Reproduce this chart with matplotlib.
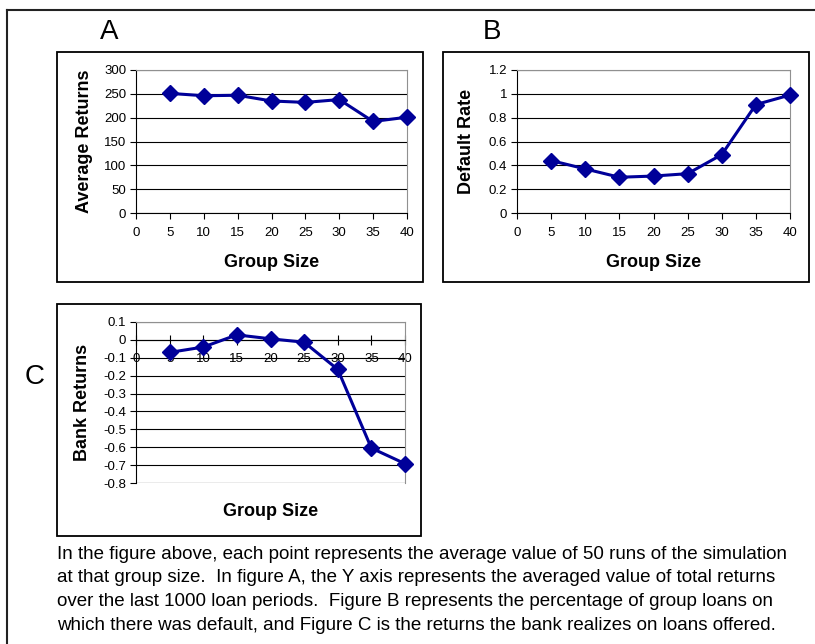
import matplotlib
matplotlib.use("Agg")
import matplotlib.pyplot as plt
from matplotlib.patches import Rectangle
from matplotlib.lines import Line2D

plt.rcParams['font.family'] = ['Liberation Sans', 'DejaVu Sans']

group_size = [5, 10, 15, 20, 25, 30, 35, 40]
avg_returns = [251, 246, 247, 235, 232, 238, 192, 201]
default_rate = [0.44, 0.37, 0.30, 0.31, 0.33, 0.49, 0.91, 0.99]
bank_returns = [-0.07, -0.04, 0.028, 0.006, -0.013, -0.165, -0.605, -0.692]
x_ticks = [0, 5, 10, 15, 20, 25, 30, 35, 40]

caption = ("In the figure above, each point represents the average value of 50 runs of the simulation\n"
           "at that group size.  In figure A, the Y axis represents the averaged value of total returns\n"
           "over the last 1000 loan periods.  Figure B represents the percentage of group loans on\n"
           "which there was default, and Figure C is the returns the bank realizes on loans offered.")

W, H = 815, 644
fig = plt.figure(figsize=(W / 100, H / 100), dpi=100)


def px_axes(x0, y0, x1, y1):
    return fig.add_axes([x0 / W, 1 - y1 / H, (x1 - x0) / W, (y1 - y0) / H])


def px_box(x0, y0, x1, y1, lw=1.3):
    fig.patches.append(Rectangle((x0 / W, 1 - y1 / H), (x1 - x0) / W, (y1 - y0) / H,
                                 transform=fig.transFigure, fill=False,
                                 edgecolor='black', linewidth=lw))


def style(ax, yvals, ylo, yhi, ylabel, labelx):
    ax.plot(group_size, yvals, color='#000099', lw=2.2, marker='D',
            markersize=8.5, markerfacecolor='#000099', markeredgecolor='#000099',
            clip_on=False, zorder=5)
    ax.set_xlim(0, 40)
    ax.set_ylim(ylo, yhi)
    ax.set_xticks(x_ticks)
    ax.grid(axis='y', color='black', lw=0.8)
    ax.set_axisbelow(True)
    for s in ('top', 'right'):
        ax.spines[s].set_color('#909090')
    for s in ('left', 'bottom'):
        ax.spines[s].set_color('black')
    ax.tick_params(labelsize=9.5, length=4, width=0.8, colors='black', pad=3)
    ax.tick_params(axis='x', pad=6)
    ax.set_xlabel('Group Size', fontsize=13, fontweight='bold', labelpad=11)
    ax.set_ylabel(ylabel, fontsize=13, fontweight='bold')
    ax.yaxis.set_label_coords(labelx, 0.5)


# outer frame
fig.lines.append(Line2D([7 / W, 7 / W], [1 - 10 / H, 0], transform=fig.transFigure,
                        color='#222222', lw=1.5))
fig.lines.append(Line2D([7 / W, 1], [1 - 10 / H, 1 - 10 / H], transform=fig.transFigure,
                        color='#222222', lw=1.5))

# A
px_box(57, 52, 423, 282)
axA = px_axes(136, 70, 407, 213)
style(axA, avg_returns, 0, 300, 'Average Returns', -0.16)
axA.set_yticks(range(0, 301, 50))
fig.text(109 / W, 1 - 32 / H, 'A', fontsize=20, ha='center', va='center')

# B
px_box(443, 52, 809, 282)
axB = px_axes(517, 70, 790, 213)
style(axB, default_rate, 0, 1.2, 'Default Rate', -0.155)
axB.set_yticks([0, 0.2, 0.4, 0.6, 0.8, 1.0, 1.2])
axB.set_yticklabels(['0', '0.2', '0.4', '0.6', '0.8', '1', '1.2'])
fig.text(492 / W, 1 - 32 / H, 'B', fontsize=20, ha='center', va='center')

# C
px_box(57, 304, 421, 536)
axC = px_axes(136, 322, 405, 483)
style(axC, bank_returns, -0.8, 0.1, 'Bank Returns', -0.168)
axC.set_yticks([0.1, 0, -0.1, -0.2, -0.3, -0.4, -0.5, -0.6, -0.7, -0.8])
axC.set_yticklabels(['0.1', '0', '-0.1', '-0.2', '-0.3', '-0.4', '-0.5', '-0.6', '-0.7', '-0.8'])
axC.spines['bottom'].set_position(('data', 0))
axC.tick_params(axis='x', direction='inout', length=7, pad=6)
axC.axhline(-0.8, color='#909090', lw=0.8)
axC.xaxis.set_label_coords(0.5, -0.125)
fig.text(35 / W, 1 - 377 / H, 'C', fontsize=20, ha='center', va='center')

fig.text(57 / W, 1 - 546 / H, caption, fontsize=13.5, ha='left', va='top',
         linespacing=1.5)

fig.savefig('out.png', dpi=100)
